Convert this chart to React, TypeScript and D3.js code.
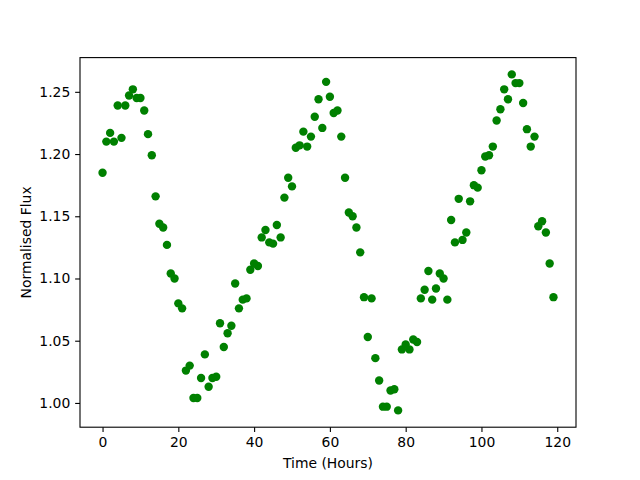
import { useEffect, useRef } from 'react';
import * as d3 from 'd3';

// Time in hours, one reading per hour
const hours: number[] = d3.range(0, 120);

// Normalised flux readings
const flux: number[] = [
  1.185, 1.210, 1.217, 1.210, 1.239, 1.213, 1.239, 1.247, 1.252, 1.245,
  1.245, 1.235, 1.216, 1.199, 1.166, 1.144, 1.141, 1.127, 1.104, 1.100,
  1.080, 1.076, 1.026, 1.030, 1.004, 1.004, 1.020, 1.039, 1.013, 1.020,
  1.021, 1.064, 1.045, 1.056, 1.062, 1.096, 1.076, 1.083, 1.084, 1.107,
  1.112, 1.110, 1.133, 1.139, 1.129, 1.128, 1.143, 1.133, 1.165, 1.181,
  1.174, 1.205, 1.207, 1.218, 1.206, 1.214, 1.230, 1.244, 1.221, 1.258,
  1.246, 1.233, 1.235, 1.214, 1.181, 1.153, 1.150, 1.141, 1.121, 1.085,
  1.053, 1.084, 1.036, 1.018, 0.997, 0.997, 1.010, 1.011, 0.994, 1.043,
  1.047, 1.043, 1.051, 1.049, 1.084, 1.091, 1.106, 1.083, 1.092, 1.104,
  1.100, 1.083, 1.147, 1.129, 1.164, 1.131, 1.137, 1.162, 1.175, 1.173,
  1.187, 1.198, 1.199, 1.206, 1.227, 1.236, 1.252, 1.244, 1.264, 1.257,
  1.257, 1.241, 1.220, 1.206, 1.214, 1.142, 1.146, 1.137, 1.112, 1.085,
];

const xTicks: number[] = [0, 20, 40, 60, 80, 100, 120];
const yTicks: number[] = [1.0, 1.05, 1.1, 1.15, 1.2, 1.25];

interface Reading {
  t: number;
  f: number;
}

export default function App() {
  const svgRef = useRef<SVGSVGElement | null>(null);

  useEffect(() => {
    if (!svgRef.current) return;
    const svg = d3.select(svgRef.current);
    svg.selectAll('*').remove();

    const width = 640;
    const height = 480;
    const margin = { top: 57.6, right: 64, bottom: 52.8, left: 80 };
    const innerWidth = width - margin.left - margin.right;
    const innerHeight = height - margin.top - margin.bottom;
    const font = '"DejaVu Sans", sans-serif';
    const fontSize = 13.9;
    const tick = 4.86;

    const data: Reading[] = hours.map((t, i) => ({ t, f: flux[i] }));

    // matplotlib-style 5% padding around the data
    const [xMin, xMax] = d3.extent(hours) as [number, number];
    const [yMin, yMax] = d3.extent(flux) as [number, number];
    const xPad = (xMax - xMin) * 0.05;
    const yPad = (yMax - yMin) * 0.05;

    const x = d3.scaleLinear().domain([xMin - xPad, xMax + xPad]).range([0, innerWidth]);
    const y = d3.scaleLinear().domain([yMin - yPad, yMax + yPad]).range([innerHeight, 0]);

    const g = svg.append('g').attr('transform', `translate(${margin.left},${margin.top})`);

    // points
    g.append('g')
      .selectAll('circle')
      .data(data)
      .join('circle')
      .attr('cx', d => x(d.t))
      .attr('cy', d => y(d.f))
      .attr('r', 4.2)
      .attr('fill', '#008000');

    // axes
    const xAxis = g.append('g')
      .attr('transform', `translate(0,${innerHeight})`)
      .call(d3.axisBottom(x).tickValues(xTicks).tickFormat(d3.format('d')).tickSizeOuter(0).tickSize(tick).tickPadding(tick));
    const yAxis = g.append('g')
      .call(d3.axisLeft(y).tickValues(yTicks).tickFormat(d3.format('.2f')).tickSizeOuter(0).tickSize(tick).tickPadding(tick));

    [xAxis, yAxis].forEach(a => {
      a.select('.domain').remove();
      a.selectAll('line').attr('stroke', '#000').attr('stroke-width', 1.1);
      a.selectAll('text').attr('fill', '#000').style('font-family', font).style('font-size', `${fontSize}px`);
    });

    // frame
    g.append('rect')
      .attr('width', innerWidth)
      .attr('height', innerHeight)
      .attr('fill', 'none')
      .attr('stroke', '#000')
      .attr('stroke-width', 1.1);

    // labels
    svg.append('text')
      .attr('x', margin.left + innerWidth / 2)
      .attr('y', 468)
      .attr('text-anchor', 'middle')
      .style('font-family', font)
      .style('font-size', `${fontSize}px`)
      .text('Time (Hours)');

    svg.append('text')
      .attr('transform', `translate(31,${margin.top + innerHeight / 2}) rotate(-90)`)
      .attr('text-anchor', 'middle')
      .style('font-family', font)
      .style('font-size', `${fontSize}px`)
      .text('Normalised Flux');

    return () => {
      svg.selectAll('*').remove();
    };
  }, []);

  return (
    <svg
      ref={svgRef}
      width={640}
      height={480}
      style={{ position: 'absolute', left: 0, top: 0, background: '#fff' }}
    />
  );
}
